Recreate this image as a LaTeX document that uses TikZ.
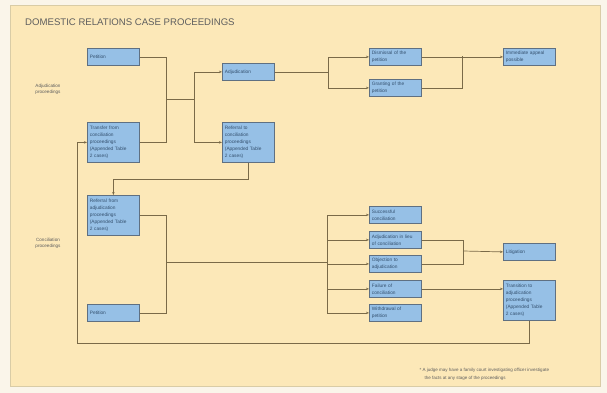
\documentclass[tikz,border=0pt]{standalone}
\usepackage{fontspec}
\setmainfont{Liberation Sans}
\usetikzlibrary{arrows.meta}

\definecolor{pagebg}{HTML}{FAF5EA}
\definecolor{panelbg}{HTML}{FCE8B8}
\definecolor{panelline}{HTML}{D9CCA6}
\definecolor{boxfill}{HTML}{96C0E6}
\definecolor{boxline}{HTML}{5F7082}
\definecolor{boxtext}{HTML}{34506E}
\definecolor{connline}{HTML}{7A6A48}
\definecolor{titletext}{HTML}{5E5E5E}

\begin{document}
\begin{tikzpicture}
	[
	x = 1pt,
	y = -1pt,
	box/.style = {draw = boxline, fill = boxfill, line width = 0.8pt, anchor = north west,
		inner sep = 0pt, minimum width = 52pt, minimum height = 17pt, text width = 47pt,
		align = left, text = boxtext, font = \fontsize{4.8}{6.9}\selectfont},
	tallbox/.style = {box, minimum height = 40pt},
	conn/.style = {draw = connline, line width = 0.7pt},
	arr/.style = {conn, -{Stealth[length = 3pt, width = 2.4pt]}},
	sidelabel/.style = {align = center, text = titletext, font = \fontsize{4.6}{6}\selectfont},
	note/.style = {anchor = north west, align = left, text = titletext, font = \fontsize{4.5}{8}\selectfont}]

	\useasboundingbox (0,0) rectangle (607,393);
	\fill[pagebg] (0,0) rectangle (607,393);
	\draw[panelline, fill = panelbg, line width = 0.8pt] (10,5) rectangle (600,386);

	\node[anchor = west, inner sep = 0pt, text = titletext, font = \fontsize{9.6}{10}\selectfont] (title) at (25,22) {DOMESTIC RELATIONS CASE PROCEEDINGS};

	%% side labels
	\node[sidelabel] (adjlabel) at (48,89) {Adjudication\\proceedings};
	\node[sidelabel] (conlabel) at (48,243) {Conciliation\\proceedings};

	%% adjudication side
	\node[box] (petA) at (87,48) {Petition};
	\node[tallbox] (transA) at (87,122) {Transfer from\\conciliation\\proceedings\\(Appended Table\\2 cases)};
	\node[box] (adj) at (222,63) {Adjudication};
	\node[tallbox] (refA) at (222,122) {Referral to\\conciliation\\proceedings\\(Appended Table\\2 cases)};
	\node[box] (dism) at (369,48) {Dismissal of the\\petition};
	\node[box] (grant) at (369,79) {Granting of the\\petition};
	\node[box] (appeal) at (503,48) {Immediate appeal\\possible};

	%% conciliation side
	\node[tallbox] (concil) at (87,195) {Referral from\\adjudication\\proceedings\\(Appended Table\\2 cases)};
	\node[box] (petB) at (87,304) {Petition};
	\node[box] (c1) at (369,206) {Successful\\conciliation};
	\node[box] (c2) at (369,231) {Adjudication in lieu\\of conciliation};
	\node[box] (c3) at (369,255) {Objection to\\adjudication};
	\node[box] (c4) at (369,280) {Failure of\\conciliation};
	\node[box] (c5) at (369,304) {Withdrawal of\\petition};
	\node[box] (litig) at (503,243) {Litigation};
	\node[tallbox] (transB) at (503,280) {Transition to\\adjudication\\proceedings\\(Appended Table\\2 cases)};

	\node[note] (footnote) at (416,365) {* A judge may have a family court investigating officer investigate\\\hspace*{5pt}the facts at any stage of the proceedings};

	%% junctions
	\coordinate (jA) at (166,99);
	\coordinate (jB) at (194,99);
	\coordinate (jD) at (462,56);
	\coordinate (jE) at (166,262);
	\coordinate (jF) at (327,262);
	\coordinate (jG) at (463,251);
	\coordinate (jH) at (77,343);

	%% connectors, adjudication
	\draw[conn] (petA.east) -| (jA);
	\draw[conn] (transA.east) -| (jA);
	\draw[conn] (jA) -- (jB);
	\draw[arr] (jB) |- (adj.west);
	\draw[arr] (jB) |- (refA.west);
	\draw[conn] (adj.east) -- ++(54,0) coordinate (jC);
	\draw[arr] (jC) |- (dism.west);
	\draw[arr] (jC) |- (grant.west);
	\draw[arr] (dism.east) -- (appeal.west);
	\draw[conn] (grant.east) -| (jD);
	\draw[arr] (refA.south) -- ++(0,17) -| (concil.north);

	%% connectors, conciliation
	\draw[conn] (concil.east) -| (jE);
	\draw[conn] (petB.east) -| (jE);
	\draw[conn] (jE) -- (jF);
	\foreach \b in {c1,c2,c3,c4,c5}
		\draw[arr] (jF) |- (\b.west);
	\draw[conn] (c2.east) -| (jG);
	\draw[conn] (c3.east) -| (jG);
	\draw[arr] (jG) -- (litig.west);
	\draw[arr] (c4.east) -- (c4.east -| transB.west);
	\draw[conn] (transB.south) |- (jH);
	\draw[arr] (jH) |- (transA.west);
\end{tikzpicture}
\end{document}
